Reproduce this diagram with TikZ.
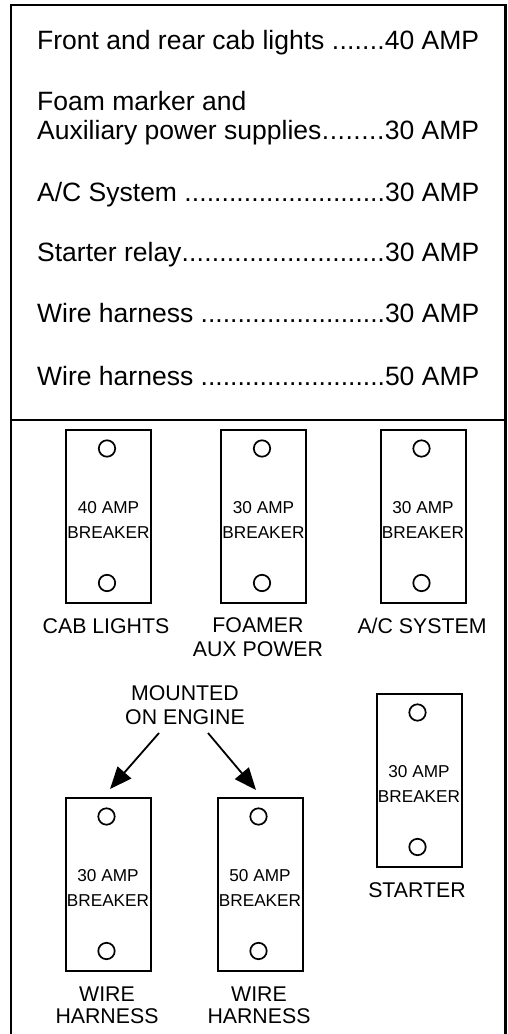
\documentclass[tikz,border=0pt]{standalone}
\usepackage{fontspec}
\setmainfont{Liberation Sans}
\usetikzlibrary{arrows.meta}
\tikzset{
  frame/.style={line width=2.2pt},
  breaker/.style={draw, line width=2pt, minimum width=85pt, minimum height=173pt, inner sep=0pt},
  bktext/.style={font=\fontsize{17.2}{25}\selectfont, align=center, inner sep=0pt},
  lbl/.style={font=\fontsize{21.3}{24}\selectfont, align=center, inner sep=0pt},
  wlbl/.style={font=\fontsize{21.3}{22.6}\selectfont, align=center, inner sep=0pt, anchor=north},
  item/.style={font=\fontsize{26.5}{29}\selectfont, inner sep=0pt, anchor=base west},
  hole/.style={line width=1.7pt},
  arr/.style={line width=1.8pt, -{Triangle[length=22pt,width=18pt]}},
}
\newcommand{\fuseline}[2]{\hbox to 442pt{#1\xleaders\hbox{.}\hfill #2}}
\newcommand{\holes}[1]{%
  \draw[hole] ([xshift=-1.5pt,yshift=68pt]#1.center) circle (8.2pt);
  \draw[hole] ([xshift=-1.5pt,yshift=-66.5pt]#1.center) circle (8.2pt);}
\begin{document}
\begin{tikzpicture}[x=1pt,y=-1pt]
\useasboundingbox (0,0) rectangle (508,1034);
% frame
\draw[frame] (11,1034) -- (11,5) -- (505.5,5) -- (505.5,1034);
\draw[frame] (11,420) -- (505.5,420);
% list
\node[item] (l1) at (37,49.3) {\fuseline{Front and rear cab lights }{40 AMP}};
\node[item, anchor=north west, align=left] (l2) at (37,91) {Foam marker and\\\fuseline{Auxiliary power supplies}{30 AMP}};
\node[item] (l3) at (37,201) {\fuseline{A/C System }{30 AMP}};
\node[item] (l4) at (37,261.7) {\fuseline{Starter relay}{30 AMP}};
\node[item] (l5) at (37,322.7) {\fuseline{Wire harness }{30 AMP}};
\node[item] (l6) at (37,385) {\fuseline{Wire harness }{50 AMP}};
% breakers row 1
\node[breaker] (b1) at (108.5,516.5) {};
\node[breaker] (b2) at (263.5,516.5) {};
\node[breaker] (b3) at (423,516.5) {};
\holes{b1}\holes{b2}\holes{b3}
\node[bktext] (t1) at ([yshift=-3pt]b1.center) {40 AMP\\BREAKER};
\node[bktext] (t2) at ([yshift=-3pt]b2.center) {30 AMP\\BREAKER};
\node[bktext] (t3) at ([yshift=-3pt]b3.center) {30 AMP\\BREAKER};
\node[lbl, anchor=base] (c1) at (106,633) {CAB LIGHTS};
\node[lbl, anchor=north] (c2) at (258,617.7) {FOAMER\\AUX POWER};
\node[lbl, anchor=base] (c3) at (422,633) {A/C SYSTEM};
% starter
\node[breaker] (b4) at (419,780.5) {};
\holes{b4}
\node[bktext] (t4) at ([yshift=-3pt]b4.center) {30 AMP\\BREAKER};
\node[lbl, anchor=base] (c4) at (417,897) {STARTER};
% engine mounted
\node[lbl, anchor=north] (mnt) at (185,685.5) {MOUNTED\\ON ENGINE};
\node[breaker] (w1) at (108,884.5) {};
\node[breaker] (w2) at (260,884.5) {};
\holes{w1}\holes{w2}
\node[bktext] (t5) at ([yshift=-3pt]w1.center) {30 AMP\\BREAKER};
\node[bktext] (t6) at ([yshift=-3pt]w2.center) {50 AMP\\BREAKER};
\node[wlbl] (c5) at (107,986.5) {WIRE\\HARNESS};
\node[wlbl] (c6) at (259,986.5) {WIRE\\HARNESS};
\draw[arr] ([xshift=-26pt,yshift=-8pt]mnt.south) -- ([xshift=2pt,yshift=8pt]w1.north);
\draw[arr] ([xshift=23pt,yshift=-8pt]mnt.south) -- ([xshift=-4pt,yshift=7pt]w2.north);
\end{tikzpicture}
\end{document}
